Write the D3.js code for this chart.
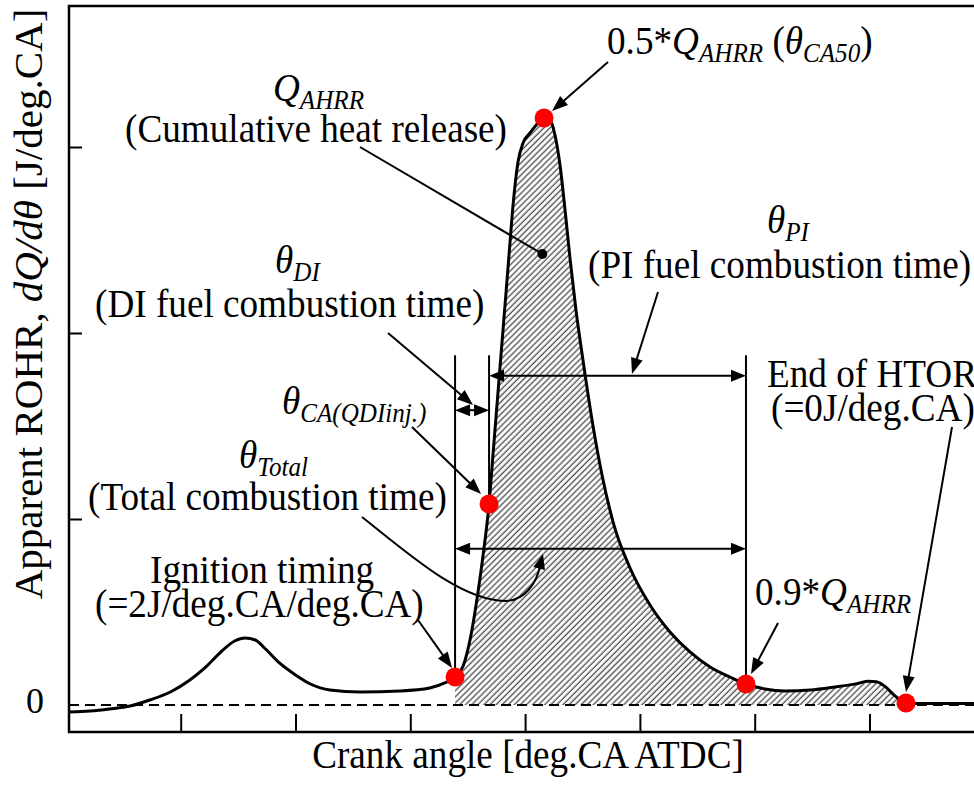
<!DOCTYPE html>
<html>
<head>
<meta charset="utf-8">
<script src="https://cdn.jsdelivr.net/npm/d3@7/dist/d3.min.js"></script>
<style>
  html, body { margin: 0; padding: 0; background: #fff; }
  svg { display: block; }
  text { font-family: "Liberation Serif", "Times New Roman", serif; fill: #000; }
</style>
</head>
<body>
<svg id="chart" width="974" height="786"></svg>
<script>
// ---------------- data ----------------
const crankAngle = [-39.7, -37.9, -36.2, -34.4, -32.7, -30.9, -29.2, -27.9, -26.6, -25.3, -24.4, -23.5, -22.7, -21.4, -20.0,
  -18.7, -17.0, -14.4, -10.9, -8.3, -7.0, -6.1, -5.4, -4.8, -4.1, -3.6, -3.14, -2.8, -2.45, -2.1, -1.75, -1.4, -1.05, -0.62,
  -0.18, 0.43, 1.12, 1.65, 2.17, 2.6, 3.04, 3.48, 3.91, 4.43, 5.04, 5.83, 6.7, 7.74, 9.14, 10.88, 12.62, 14.36, 16.11,
  17.85, 19.24, 20.9, 22.64, 24.82, 27.0, 28.9, 29.9, 30.6, 31.3, 32.2, 33.18, 34.4, 37.0, 40.5];
const rohr = [-0.75, -0.65, -0.43, -0.11, 0.54, 1.40, 2.69, 3.98, 5.59, 6.88, 7.20, 6.99, 6.13, 4.52, 3.23,
  2.26, 1.61, 1.40, 1.51, 1.83, 2.37, 3.01, 4.19, 6.99, 12.15, 16.67, 21.61, 26.88, 32.26, 37.63, 43.01, 48.39, 53.76, 58.39,
  60.43, 61.51, 62.58, 63.12, 62.90, 61.29, 58.06, 53.23, 48.06, 42.47, 37.10, 30.65, 24.73, 19.35, 14.73, 10.75, 7.85, 5.70, 4.09,
  3.01, 2.26, 1.72, 1.51, 1.61, 1.94, 2.30, 2.55, 2.50, 2.05, 1.00, 0.22, 0.15, 0.15, 0.15];

// key points: ignition, CA(QDIinj.), CA50, 0.9*Q, end of HTOR
const keyAngle = [-6.1, -3.14, 1.65, 19.24, 33.18];
const keyRohr  = [3.01, 21.61, 63.12, 2.26, 0.22];

const xTickValues = [-30, -20, -10, 0, 10, 20, 30];
const yTickValues = [20, 40, 60];
const yZeroLabel = ["0"];

// dimension arrows: [fromAngle, toAngle, level]
const dimFrom  = [-6.1, -3.14, -6.1];
const dimTo    = [-3.14, 19.24, 19.24];
const dimLevel = [31.7, 35.4, 16.8];
// vertical reference lines: angle, top level
const vlineAngle = [-6.1, -3.14, 19.24];
const vlineTop = 37.6;
// cumulative heat release marker
const qMarker = [1.5, 48.5];

// ---------------- layout ----------------
const svg = d3.select("#chart");
const L = 69, T = 6, B = 732, R = 1000;
const x = d3.scaleLinear().domain([-30, 30]).range([180.7, 869.5]);
const y = d3.scaleLinear().domain([0, 60]).range([705, 147]);

const pts = crankAngle.map((a, i) => ({ a, v: rohr[i] }));

const defs = svg.append("defs");
const pat = defs.append("pattern").attr("id", "hatch")
  .attr("patternUnits", "userSpaceOnUse").attr("width", 4.3).attr("height", 10)
  .attr("patternTransform", "rotate(45)");
pat.append("rect").attr("width", 4.3).attr("height", 10).attr("fill", "#fff");
pat.append("line").attr("x1", 2).attr("x2", 2).attr("y1", -1).attr("y2", 11)
  .attr("stroke", "#555").attr("stroke-width", 1.4);

// hatched area
const areaPts = pts.filter(d => d.a >= keyAngle[0] && d.a <= keyAngle[4]);
svg.append("path").datum(areaPts)
  .attr("d", d3.area().x(d => x(d.a)).y0(y(0)).y1(d => y(d.v)).curve(d3.curveMonotoneX))
  .attr("fill", "url(#hatch)");

// zero dashed line
svg.append("line").attr("x1", L).attr("x2", R).attr("y1", y(0)).attr("y2", y(0))
  .attr("stroke", "#000").attr("stroke-width", 2.2).attr("stroke-dasharray", "10,6");

// frame
svg.append("path").attr("d", `M${R},${T}H${L}V${B}H${R}`)
  .attr("fill", "none").attr("stroke", "#000").attr("stroke-width", 2.5);

// axes ticks (inside)
const yAx = svg.append("g").attr("transform", `translate(${L},0)`)
  .call(d3.axisRight(y).tickValues(yTickValues).tickSize(13).tickFormat(""));
const xAx = svg.append("g").attr("transform", `translate(0,${B})`)
  .call(d3.axisTop(x).tickValues(xTickValues).tickSize(18).tickFormat(""));
[yAx, xAx].forEach(g => {
  g.select(".domain").remove();
  g.selectAll(".tick line").attr("stroke", "#000").attr("stroke-width", 2);
});

// curve
svg.append("path").datum(pts)
  .attr("d", d3.line().x(d => x(d.a)).y(d => y(d.v)).curve(d3.curveMonotoneX))
  .attr("fill", "none").attr("stroke", "#000").attr("stroke-width", 3).attr("stroke-linejoin", "round");

// vertical lines
const keyY = a => { const i = keyAngle.indexOf(a); return keyRohr[i]; };
vlineAngle.forEach(a => {
  svg.append("line").attr("x1", x(a)).attr("x2", x(a)).attr("y1", y(vlineTop)).attr("y2", y(keyY(a)))
    .attr("stroke", "#000").attr("stroke-width", 2);
});

// arrow helpers
function head(tx, ty, ang, len = 16, hw = 6) {
  const dx = Math.cos(ang), dy = Math.sin(ang);
  const bx = tx - len * dx, by = ty - len * dy;
  svg.append("path")
    .attr("d", `M${tx},${ty}L${bx - hw * dy},${by + hw * dx}L${bx + hw * dy},${by - hw * dx}Z`)
    .attr("fill", "#000");
}
function arrow(x1, y1, x2, y2, w = 2) {
  const ang = Math.atan2(y2 - y1, x2 - x1);
  svg.append("line").attr("x1", x1).attr("y1", y1)
    .attr("x2", x2 - 10 * Math.cos(ang)).attr("y2", y2 - 10 * Math.sin(ang))
    .attr("stroke", "#000").attr("stroke-width", w);
  head(x2, y2, ang);
}
function dblArrow(xa, xb, yy) {
  svg.append("line").attr("x1", xa + 8).attr("x2", xb - 8).attr("y1", yy).attr("y2", yy)
    .attr("stroke", "#000").attr("stroke-width", 2);
  head(xa, yy, Math.PI, 15, 6);
  head(xb, yy, 0, 15, 6);
}
dimFrom.forEach((f, i) => dblArrow(x(f), x(dimTo[i]), y(dimLevel[i])));

// leader lines
svg.append("line").attr("x1", 360).attr("y1", 147).attr("x2", x(qMarker[0])).attr("y2", y(qMarker[1]))
  .attr("stroke", "#000").attr("stroke-width", 2);
svg.append("circle").attr("cx", x(qMarker[0])).attr("cy", y(qMarker[1])).attr("r", 5).attr("fill", "#000");

arrow(608, 62, x(keyAngle[2]) + 8, y(keyRohr[2]) - 7);      // CA50
arrow(388, 333, 473, 405);                                   // theta DI
arrow(412, 427, x(keyAngle[1]) - 8, y(keyRohr[1]) - 10);     // theta CA(QDIinj.)
arrow(418, 620, x(keyAngle[0]) - 3, y(keyRohr[0]) - 9);      // ignition
arrow(658, 292, 632, 374);                                   // theta PI
arrow(778, 623, x(keyAngle[3]) + 5, y(keyRohr[3]) - 10);     // 0.9 Q
arrow(952, 427, x(keyAngle[4]), y(keyRohr[4]) - 11);         // end of HTOR

// curved arrow for theta total
svg.append("path").attr("d", "M362,517 C410,555 460,600 505,601 C525,601 537,582 540,566")
  .attr("fill", "none").attr("stroke", "#000").attr("stroke-width", 2);
head(543, 554, Math.atan2(-15, 4), 15, 6);

// red dots
keyAngle.forEach((a, i) => {
  svg.append("circle").attr("cx", x(a)).attr("cy", y(keyRohr[i])).attr("r", 9.5).attr("fill", "#ff0000");
});

// ---------------- text ----------------
const SX = 0.93, FS = 40, SUB = 27, SUBDY = 8;
function label(px, py, segs, anchor = "start") {
  const t = svg.append("text").attr("transform", `translate(${px},${py}) scale(${SX},1)`)
    .attr("text-anchor", anchor).attr("font-size", FS);
  let inSub = false;
  segs.forEach(([s, st]) => {
    const ts = t.append("tspan").text(s);
    if (st === "s") {
      ts.attr("font-size", SUB).attr("font-style", "italic");
      if (!inSub) ts.attr("dy", SUBDY);
      inSub = true;
    } else {
      if (st === "i") ts.attr("font-style", "italic");
      if (inSub) ts.attr("dy", -SUBDY);
      inSub = false;
    }
  });
  t.style("white-space", "pre");
  return t;
}

label(273, 101, [["Q", "i"], ["AHRR", "s"]]);
label(316, 142, [["(Cumulative heat release)", "n"]], "middle");
label(607, 54, [["0.5*", "n"], ["Q", "i"], ["AHRR", "s"], [" (", "n"], ["θ", "i"], ["CA50", "s"], [")", "n"]]);
label(767, 233, [["θ", "i"], ["PI", "s"]]);
label(588, 278, [["(PI fuel combustion time)", "n"]]);
label(275, 273, [["θ", "i"], ["DI", "s"]]);
label(95, 317, [["(DI fuel combustion time)", "n"]]);
label(282, 414, [["θ", "i"], ["CA(QDIinj.)", "s"]]);
label(239, 468, [["θ", "i"], ["Total", "s"]]);
label(88, 510, [["(Total combustion time)", "n"]]);
label(150, 583, [["Ignition timing", "n"]]);
label(95, 617, [["(=2J/deg.CA/deg.CA)", "n"]]);
label(767, 387, [["End of HTOR", "n"]]);
label(771, 421, [["(=0J/deg.CA)", "n"]]);
label(755, 605, [["0.9*", "n"], ["Q", "i"], ["AHRR", "s"]]);

// axis labels
svg.append("text").attr("x", 528).attr("y", 768).attr("text-anchor", "middle")
  .attr("font-size", FS).attr("transform", `translate(${528 * (1 - SX)},0) scale(${SX},1)`)
  .text("Crank angle [deg.CA ATDC]");

svg.append("text").attr("x", 35).attr("y", 713).attr("text-anchor", "middle").attr("font-size", 36)
  .text(yZeroLabel[0]);

const yl = svg.append("text").attr("transform", "translate(42,304) rotate(-90)")
  .attr("text-anchor", "middle").attr("font-size", 41);
yl.append("tspan").text("Apparent ROHR, ");
yl.append("tspan").attr("font-style", "italic").text("dQ/dθ");
yl.append("tspan").text(" [J/deg.CA]");
</script>
</body>
</html>
